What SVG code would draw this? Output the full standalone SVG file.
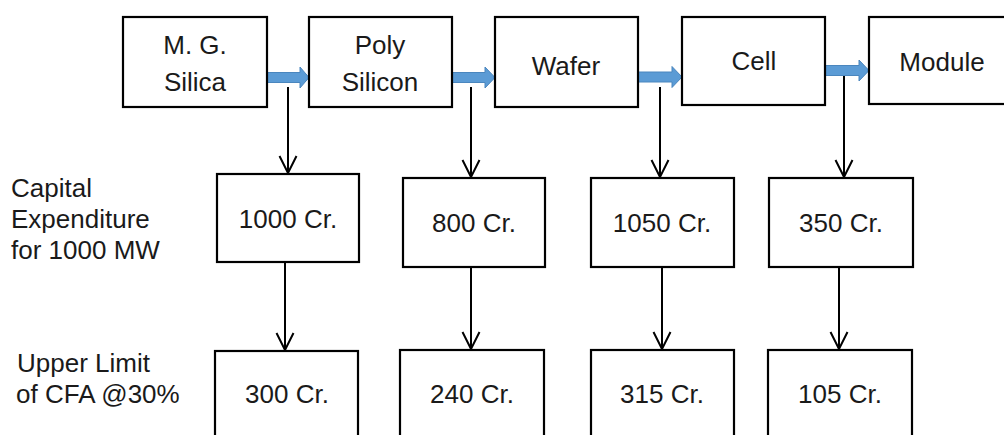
<svg xmlns="http://www.w3.org/2000/svg" width="1004" height="435" viewBox="0 0 1004 435">
<style>
.box{fill:#fff;stroke:#000;stroke-width:2.2}
.t{font-family:"Liberation Sans",Arial,sans-serif;font-size:26px;fill:#1a1a1a;text-anchor:middle}
.l{font-family:"Liberation Sans",Arial,sans-serif;font-size:26px;fill:#1a1a1a}
.blue{fill:#5b9bd5;stroke:#4a86be;stroke-width:1}
.dl{stroke:#000;stroke-width:2;fill:none}
</style>
<defs>
<marker id="v" viewBox="0 0 20 20" refX="18" refY="10" markerWidth="20" markerHeight="20" markerUnits="userSpaceOnUse" orient="auto">
<path d="M1,1.5 L18,10 L1,18.5" fill="none" stroke="#000" stroke-width="2"/>
</marker>
</defs>
<rect width="1004" height="435" fill="#fff"/>
<g id="connectors">
<path class="blue" d="M267,72.5 H300 V67 L309,77.5 L300,88 V82.5 H267 Z"/>
<path class="blue" d="M452,72.5 H485 V67 L495,77.5 L485,88 V82.5 H452 Z"/>
<path class="blue" d="M638,72 H672 V66.5 L682,77 L672,87.5 V82 H638 Z"/>
<path class="blue" d="M825,65.5 H859 V60 L869,70.5 L859,81 V75.5 H825 Z"/>
<g marker-end="url(#v)">
<line class="dl" x1="288" y1="87" x2="288" y2="173"/>
<line class="dl" x1="471" y1="87" x2="471" y2="177"/>
<line class="dl" x1="660" y1="87" x2="660" y2="177"/>
<line class="dl" x1="844" y1="76" x2="844" y2="177"/>
<line class="dl" x1="285" y1="263" x2="285" y2="350"/>
<line class="dl" x1="471" y1="267" x2="471" y2="349"/>
<line class="dl" x1="662" y1="267" x2="662" y2="349"/>
<line class="dl" x1="839" y1="267" x2="839" y2="349"/>
</g>
</g>
<g id="mg-silica"><rect class="box" x="123" y="17" width="144" height="90"/><text class="t" x="195" y="54">M. G.</text><text class="t" x="195" y="91">Silica</text></g>
<g id="poly-silicon"><rect class="box" x="309" y="17" width="143" height="90"/><text class="t" x="380" y="54">Poly</text><text class="t" x="380" y="91">Silicon</text></g>
<g id="wafer"><rect class="box" x="495" y="17" width="143" height="90"/><text class="t" x="566" y="75">Wafer</text></g>
<g id="cell"><rect class="box" x="682" y="17" width="143" height="88"/><text class="t" x="754" y="70">Cell</text></g>
<g id="module"><rect class="box" x="869" y="17" width="145" height="87"/><text class="t" x="942" y="71">Module</text></g>
<g id="label-capex"><text class="l" x="11" y="197">Capital</text><text class="l" x="11" y="228">Expenditure</text><text class="l" x="11" y="259">for 1000 MW</text></g>
<g id="label-cfa"><text class="l" x="17" y="372">Upper Limit</text><text class="l" x="16" y="403">of CFA @30%</text></g>
<g id="capex-1000"><rect class="box" x="217" y="174" width="142" height="88"/><text class="t" x="288" y="228">1000 Cr.</text></g>
<g id="capex-800"><rect class="box" x="403" y="178" width="142" height="89"/><text class="t" x="474" y="232">800 Cr.</text></g>
<g id="capex-1050"><rect class="box" x="591" y="178" width="143" height="89"/><text class="t" x="662" y="232">1050 Cr.</text></g>
<g id="capex-350"><rect class="box" x="769" y="178" width="144" height="89"/><text class="t" x="841" y="232">350 Cr.</text></g>
<g id="cfa-300"><rect class="box" x="215" y="351" width="143" height="95"/><text class="t" x="287" y="403">300 Cr.</text></g>
<g id="cfa-240"><rect class="box" x="400" y="350" width="144" height="96"/><text class="t" x="472" y="403">240 Cr.</text></g>
<g id="cfa-315"><rect class="box" x="591" y="350" width="143" height="96"/><text class="t" x="662" y="403">315 Cr.</text></g>
<g id="cfa-105"><rect class="box" x="768" y="350" width="144" height="96"/><text class="t" x="840" y="403">105 Cr.</text></g>
</svg>
